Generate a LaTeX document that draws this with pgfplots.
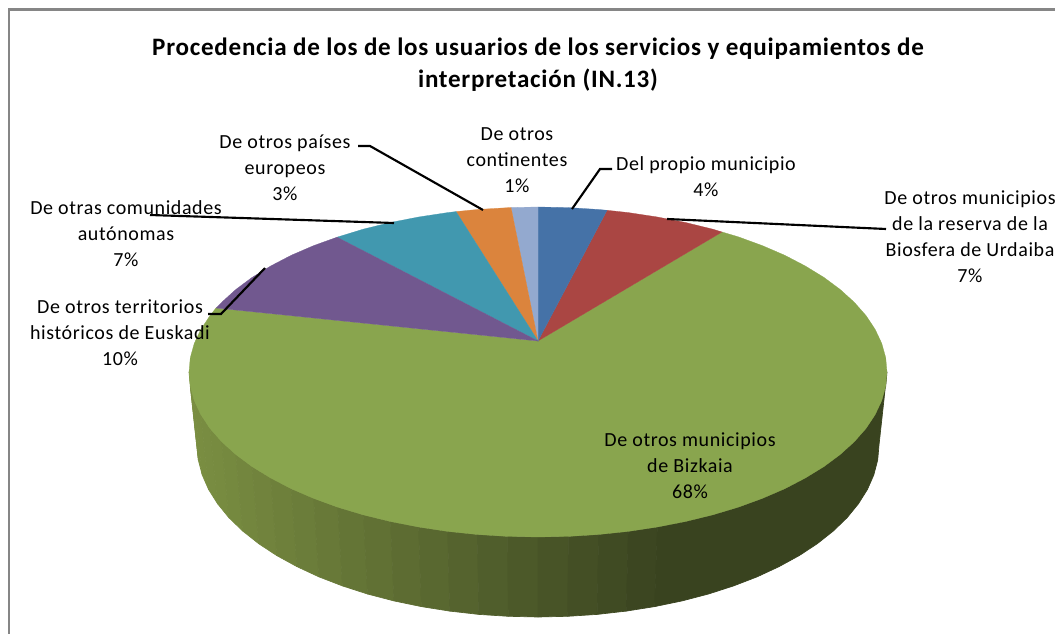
\documentclass[border=0pt]{standalone}
\usepackage{pgfplots}
\pgfplotsset{compat=1.18}
\usepackage{fontspec}
\setmainfont{Carlito}[LetterSpace=3]
\definecolor{cblue}{HTML}{4572A7}
\definecolor{cred}{HTML}{AA4643}
\definecolor{cgreen}{HTML}{89A54E}
\definecolor{cpurple}{HTML}{71588F}
\definecolor{cteal}{HTML}{4198AF}
\definecolor{corange}{HTML}{DB843D}
\definecolor{clav}{HTML}{93A9CF}
\definecolor{frame}{HTML}{868686}
\definecolor{s1}{RGB}{122,142,66}
\definecolor{s2}{RGB}{122,142,66}
\definecolor{s3}{RGB}{121,141,65}
\definecolor{s4}{RGB}{120,140,65}
\definecolor{s5}{RGB}{119,139,64}
\definecolor{s6}{RGB}{117,137,63}
\definecolor{s7}{RGB}{115,134,62}
\definecolor{s8}{RGB}{113,131,61}
\definecolor{s9}{RGB}{110,128,59}
\definecolor{s10}{RGB}{107,125,58}
\definecolor{s11}{RGB}{104,121,56}
\definecolor{s12}{RGB}{100,117,54}
\definecolor{s13}{RGB}{97,113,52}
\definecolor{s14}{RGB}{93,108,50}
\definecolor{s15}{RGB}{89,104,48}
\definecolor{s16}{RGB}{85,99,46}
\definecolor{s17}{RGB}{80,94,44}
\definecolor{s18}{RGB}{76,89,41}
\definecolor{s19}{RGB}{72,84,39}
\definecolor{s20}{RGB}{68,79,37}
\definecolor{s21}{RGB}{64,75,35}
\definecolor{s22}{RGB}{60,70,33}
\definecolor{s23}{RGB}{57,67,31}
\newcommand\band[2]{\addplot[fill=#1,draw=#1,line width=0.5pt,line join=round] coordinates {#2} --cycle;}
\newcommand\slice[2]{\addplot[fill=#1,draw=#1,line width=0.2pt] coordinates {#2} --cycle;}
\newcommand\leader[1]{\addplot[black,line width=1.6pt,line join=miter] coordinates {#1};}
\newcommand\lab[3]{\node[align=center,font=\fontsize{15}{19.5}\selectfont,inner sep=0pt,anchor=center] at (axis cs:#1,#2) {#3};}
\begin{document}
\begin{tikzpicture}
\path[use as bounding box] (0,0) rectangle (791.25pt,475.5pt);
\begin{axis}[at={(0,0)},anchor=south west,scale only axis,width=791.25pt,height=475.5pt,
  xmin=0,xmax=1055,ymin=0,ymax=634,y dir=reverse,hide axis,clip=true]
% frame
\addplot[color=frame,line width=2.2pt] coordinates {(9,640) (9,9.5) (1060,9.5)};
% side, left part
\band{s1}{(189,372)(190.3,386.4)(198.3,460)(197,445)}
\band{s2}{(190.3,386.4)(194.3,400.7)(202.2,474.9)(198.3,460)}
\band{s3}{(194.3,400.7)(200.9,414.7)(208.6,489.5)(202.2,474.9)}
\band{s4}{(200.9,414.7)(210,428.4)(217.6,503.8)(208.6,489.5)}
\band{s5}{(210,428.4)(221.7,441.7)(228.9,517.7)(217.6,503.8)}
\band{s6}{(221.7,441.7)(235.8,454.5)(242.7,531)(228.9,517.7)}
\band{s7}{(235.8,454.5)(252.1,466.6)(258.7,543.7)(242.7,531)}
\band{s8}{(252.1,466.6)(270.7,478)(276.8,555.6)(258.7,543.7)}
\band{s9}{(270.7,478)(291.2,488.7)(296.9,566.6)(276.8,555.6)}
\band{s10}{(291.2,488.7)(313.7,498.4)(318.8,576.8)(296.9,566.6)}
\band{s11}{(313.7,498.4)(337.8,507.2)(342.4,585.9)(318.8,576.8)}
\band{s12}{(337.8,507.2)(363.5,514.9)(367.5,594)(342.4,585.9)}
\band{s13}{(363.5,514.9)(390.5,521.5)(393.9,600.9)(367.5,594)}
\band{s14}{(390.5,521.5)(418.6,527)(421.4,606.6)(393.9,600.9)}
\band{s15}{(418.6,527)(447.7,531.4)(449.7,611.1)(421.4,606.6)}
\band{s16}{(447.7,531.4)(477.4,534.5)(478.8,614.4)(449.7,611.1)}
\band{s17}{(477.4,534.5)(507.6,536.4)(508.3,616.3)(478.8,614.4)}
\band{s18}{(507.6,536.4)(538,537)(538,617)(508.3,616.3)}
\band{s19}{(538,537)(568.4,536.4)(567.7,616.3)(538,617)}
\band{s20}{(568.4,536.4)(598.6,534.5)(597.2,614.4)(567.7,616.3)}
\band{s21}{(598.6,534.5)(628.3,531.4)(626.3,611.1)(597.2,614.4)}
\band{s22}{(628.3,531.4)(657.4,527)(654.6,606.6)(626.3,611.1)}
% side, flat dark part
\band{s23}{(657.4,527)(685.5,521.5)(712.5,514.9)(738.2,507.2)(762.3,498.4)(784.8,488.7)(805.3,478)(823.9,466.6)(840.2,454.5)(854.3,441.7)(866,428.4)(875.1,414.7)(881.7,400.7)(885.7,386.4)(887,372)(879,445)(877.7,460)(873.8,474.9)(867.4,489.5)(858.4,503.8)(847.1,517.7)(833.3,531)(817.3,543.7)(799.2,555.6)(779.1,566.6)(757.2,576.8)(733.6,585.9)(708.5,594)(682.1,600.9)(654.6,606.6)}
% top surface
\slice{cgreen}{(538,341)(216,308)(210,315.6)(200.9,329.3)(194.3,343.3)(190.3,357.6)(189,372)(190.3,386.4)(194.3,400.7)(200.9,414.7)(210,428.4)(221.7,441.7)(235.8,454.5)(252.1,466.6)(270.7,478)(291.2,488.7)(313.7,498.4)(337.8,507.2)(363.5,514.9)(390.5,521.5)(418.6,527)(447.7,531.4)(477.4,534.5)(507.6,536.4)(538,537)(568.4,536.4)(598.6,534.5)(628.3,531.4)(657.4,527)(685.5,521.5)(712.5,514.9)(738.2,507.2)(762.3,498.4)(784.8,488.7)(805.3,478)(823.9,466.6)(840.2,454.5)(854.3,441.7)(866,428.4)(875.1,414.7)(881.7,400.7)(885.7,386.4)(887,372)(885.7,357.6)(881.7,343.3)(875.1,329.3)(866,315.6)(854.3,302.3)(840.2,289.5)(823.9,277.4)(805.3,266)(784.8,255.3)(762.3,245.6)(738.2,236.8)(722,232)}
\slice{cred}{(538,341)(722,232)(712.5,229.1)(685.5,222.5)(657.4,217)(628.3,212.6)(607,210.3)}
\slice{cblue}{(538,341)(607,210.3)(598.6,209.5)(568.4,207.6)(538,207)}
\slice{clav}{(538,341)(538,207)(511,207.5)}
\slice{corange}{(538,341)(511,207.5)(477.4,209.5)(456,211.6)}
\slice{cteal}{(538,341)(456,211.6)(447.7,212.6)(418.6,217)(390.5,222.5)(363.5,229.1)(337,237.2)}
\slice{cpurple}{(538,341)(337,237.2)(313.7,245.6)(291.2,255.3)(270.7,266)(252.1,277.4)(235.8,289.5)(221.7,302.3)(216,308)}
% leader lines
\leader{(358,146)(370,146)(483,210)}
\leader{(150,215)(394,223)}
\leader{(208,314)(221,314)(265,268)}
\leader{(612,169)(600,169)(572,209)}
\leader{(667,219)(886,229)}
% title
\node[align=center,font=\fontsize{18.8}{24}\selectfont\bfseries,inner sep=0pt] at (axis cs:538,64.5) {Procedencia de los de los usuarios de los servicios y equipamientos de\\interpretación  (IN.13)};
% labels
\lab{285}{168}{De otros países\\europeos\\3\%}
\lab{517}{160}{De otros\\continentes\\1\%}
\lab{706}{177}{Del propio municipio\\4\%}
\lab{970}{237}{De otros municipios\\de la reserva de la\\Biosfera de Urdaiba\\7\%}
\lab{126}{234}{De otras comunidades\\autónomas\\7\%}
\lab{120}{333}{De otros territorios\\históricos de Euskadi\\10\%}
\lab{690}{466}{De otros municipios\\de Bizkaia\\68\%}
\end{axis}
\end{tikzpicture}
\end{document}
